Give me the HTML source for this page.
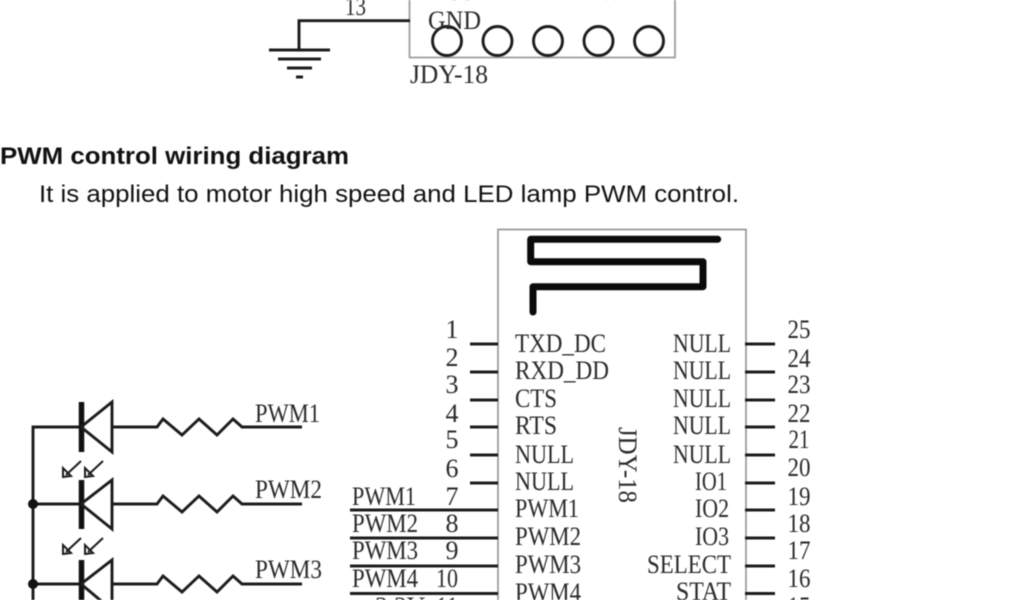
<!DOCTYPE html>
<html><head><meta charset="utf-8"><style>
html,body{margin:0;padding:0;background:#fff;width:1024px;height:600px;overflow:hidden}
svg{display:block;filter:blur(.45px)}
.s{font-family:"Liberation Serif",serif;font-size:26px;fill:#2a2a2a}
.b{stroke:#1c1c1c;fill:none;stroke-width:2.9}
.g{stroke:#999;fill:none;stroke-width:1.7}
</style></head><body>
<svg width="1024" height="600" viewBox="0 0 1024 600" xmlns="http://www.w3.org/2000/svg">
<rect x="409.500" y="-20" width="265.500" height="77.500" class="g"/>
<path class="b" d="M410 20.700H299V50"/>
<path class="b" d="M269 50H330M278 59H321M287 68H312M296 77H303"/>
<g class="b"><circle cx="447" cy="41" r="14.500"/><circle cx="497.500" cy="41" r="14.500"/><circle cx="548" cy="41" r="14.500"/><circle cx="598.500" cy="41" r="14.500"/><circle cx="649" cy="41" r="14.500"/></g>
<g class="s">
<text x="345" y="15" textLength="21" lengthAdjust="spacingAndGlyphs">13</text>
<text x="428" y="29" textLength="53" lengthAdjust="spacingAndGlyphs">GND</text>
<text x="410" y="83" textLength="78" lengthAdjust="spacingAndGlyphs">JDY-18</text>
<text x="433" y="0" textLength="40" lengthAdjust="spacingAndGlyphs">VCC</text>
<text x="587" y="0" textLength="66" lengthAdjust="spacingAndGlyphs">PWM4</text>
</g>
<g font-family="'Liberation Sans',sans-serif" fill="#111">
<text x="0" y="164" font-size="24" font-weight="700" textLength="349" lengthAdjust="spacingAndGlyphs">PWM control wiring diagram</text>
<text x="39" y="202" font-size="24.500" textLength="700" lengthAdjust="spacingAndGlyphs">It is applied to motor high speed and LED lamp PWM control.</text>
</g>
<path class="g" d="M498 620V229.500H746V620"/>
<path d="M717.700 239.300H530.700V261.700H703V286.700H533V312" fill="none" stroke="#0a0a0a" stroke-width="7" stroke-linecap="round" stroke-linejoin="round"/>
<path class="b" d="M470 344H498M470 372H498M470 400H498M470 427H498M470 455H498M470 483H498M350 510H498M350 538H498M350 566H498M350 593.500H498M745 344H775M745 372H775M745 400H775M745 427H775M745 455H775M745 483H775M745 510H775M745 538H775M745 566H775M745 593.500H775"/>
<g class="s" text-anchor="middle">
<text x="452" y="338">1</text><text x="452" y="366">2</text><text x="452" y="393">3</text><text x="452" y="422">4</text><text x="452" y="448">5</text><text x="452" y="477">6</text><text x="452" y="505">7</text><text x="452" y="532">8</text><text x="452" y="559">9</text><text x="447" y="587" textLength="22" lengthAdjust="spacingAndGlyphs">10</text><text x="447" y="615" textLength="22" lengthAdjust="spacingAndGlyphs">11</text>
<text x="799" y="338" textLength="23" lengthAdjust="spacingAndGlyphs">25</text><text x="799" y="367" textLength="23" lengthAdjust="spacingAndGlyphs">24</text><text x="799" y="393" textLength="23" lengthAdjust="spacingAndGlyphs">23</text><text x="799" y="422" textLength="23" lengthAdjust="spacingAndGlyphs">22</text><text x="799" y="448" textLength="21" lengthAdjust="spacingAndGlyphs">21</text><text x="799" y="476" textLength="23" lengthAdjust="spacingAndGlyphs">20</text><text x="799" y="505" textLength="23" lengthAdjust="spacingAndGlyphs">19</text><text x="799" y="532" textLength="23" lengthAdjust="spacingAndGlyphs">18</text><text x="799" y="559" textLength="23" lengthAdjust="spacingAndGlyphs">17</text><text x="799" y="587" textLength="23" lengthAdjust="spacingAndGlyphs">16</text><text x="799" y="615" textLength="23" lengthAdjust="spacingAndGlyphs">15</text>
</g>
<g class="s">
<text x="515" y="352" textLength="91" lengthAdjust="spacingAndGlyphs">TXD_DC</text>
<text x="515" y="379" textLength="94" lengthAdjust="spacingAndGlyphs">RXD_DD</text>
<text x="515" y="407" textLength="42" lengthAdjust="spacingAndGlyphs">CTS</text>
<text x="515" y="434" textLength="42" lengthAdjust="spacingAndGlyphs">RTS</text>
<text x="515" y="463" textLength="59" lengthAdjust="spacingAndGlyphs">NULL</text>
<text x="515" y="490" textLength="59" lengthAdjust="spacingAndGlyphs">NULL</text>
<text x="515" y="517" textLength="64" lengthAdjust="spacingAndGlyphs">PWM1</text>
<text x="515" y="545" textLength="66" lengthAdjust="spacingAndGlyphs">PWM2</text>
<text x="515" y="573" textLength="66" lengthAdjust="spacingAndGlyphs">PWM3</text>
<text x="515" y="601" textLength="66" lengthAdjust="spacingAndGlyphs">PWM4</text>
<text x="352" y="505" textLength="64" lengthAdjust="spacingAndGlyphs">PWM1</text>
<text x="352" y="532" textLength="66" lengthAdjust="spacingAndGlyphs">PWM2</text>
<text x="352" y="559" textLength="66" lengthAdjust="spacingAndGlyphs">PWM3</text>
<text x="352" y="587" textLength="66" lengthAdjust="spacingAndGlyphs">PWM4</text>
<text x="375" y="615" textLength="50" lengthAdjust="spacingAndGlyphs">3.3V</text>
<text x="255" y="422" textLength="65" lengthAdjust="spacingAndGlyphs">PWM1</text>
<text x="255" y="498" textLength="67" lengthAdjust="spacingAndGlyphs">PWM2</text>
<text x="255" y="578" textLength="67" lengthAdjust="spacingAndGlyphs">PWM3</text>
<text transform="translate(619 427) rotate(90)" textLength="76" lengthAdjust="spacingAndGlyphs">JDY-18</text>
<text x="673" y="352" textLength="58" lengthAdjust="spacingAndGlyphs">NULL</text>
<text x="673" y="379" textLength="58" lengthAdjust="spacingAndGlyphs">NULL</text>
<text x="673" y="407" textLength="58" lengthAdjust="spacingAndGlyphs">NULL</text>
<text x="673" y="434" textLength="58" lengthAdjust="spacingAndGlyphs">NULL</text>
<text x="673" y="463" textLength="58" lengthAdjust="spacingAndGlyphs">NULL</text>
<text x="695" y="490" textLength="32" lengthAdjust="spacingAndGlyphs">IO1</text>
<text x="695" y="517" textLength="34" lengthAdjust="spacingAndGlyphs">IO2</text>
<text x="695" y="545" textLength="34" lengthAdjust="spacingAndGlyphs">IO3</text>
<text x="647" y="573" textLength="84" lengthAdjust="spacingAndGlyphs">SELECT</text>
<text x="676" y="600" textLength="55" lengthAdjust="spacingAndGlyphs">STAT</text>
</g>
<path class="b" d="M33 600V427H81"/>
<path class="b" d="M33 504H81M33 584H81"/>
<circle cx="33" cy="504" r="5" fill="#111"/><circle cx="33" cy="584" r="5" fill="#111"/>
<path d="M81.500 402V452M81.500 480V529M81.500 560V610" stroke="#111" stroke-width="5.500" fill="none"/>
<path class="b" d="M81 427L112 402V452ZM81 504L112 480V529ZM81 584L112 560V610Z"/>
<path class="b" d="M112 427H157L163 419L182 435L199 419L217 435L233 419L242 427H302"/>
<path class="b" d="M112 504H157L163 496L182 512L199 496L217 512L233 496L242 504H302"/>
<path class="b" d="M112 584H157L163 576L182 592L199 576L217 592L233 576L242 584H302"/>
<g class="b" style="stroke-width:2">
<path d="M81 461L66 475M103 461L88 475M81 538L66 552M103 538L88 552"/>
<path d="M63 477V468L71 476ZM85 477V468L93 476ZM63 554V545L71 553ZM85 554V545L93 553Z"/>
</g>
</svg>
</body></html>
